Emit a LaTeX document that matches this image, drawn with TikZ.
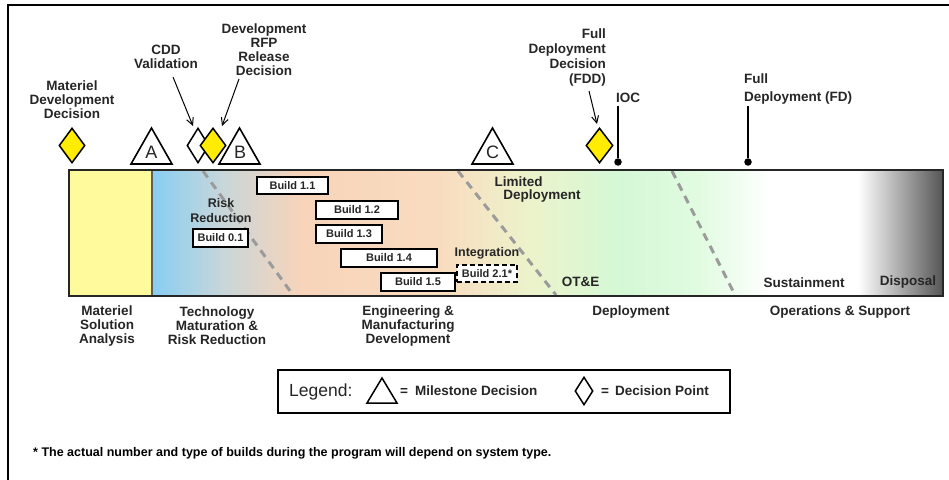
\documentclass[tikz,border=0pt]{standalone}
\usepackage{fontspec}
\setmainfont{Liberation Sans}
\usetikzlibrary{arrows.meta,shapes.geometric}

% colours
\definecolor{ink}{RGB}{38,38,38}
\definecolor{decyellow}{RGB}{255,236,0}
\definecolor{msayellow}{RGB}{255,250,155}
\definecolor{phaseline}{RGB}{155,155,155}
\definecolor{sepgray}{RGB}{95,95,95}
\definecolor{gA}{RGB}{135,206,242}
\definecolor{gB}{RGB}{200,214,218}
\definecolor{gC}{RGB}{247,212,186}
\definecolor{gD}{RGB}{249,220,192}
\definecolor{gE}{RGB}{236,243,203}
\definecolor{gF}{RGB}{212,248,214}
\definecolor{gG}{RGB}{225,251,225}
\definecolor{gH}{RGB}{85,85,85}

% fonts
\newcommand\lblfont{\bfseries\fontsize{13.5}{14}\selectfont}
\newcommand\midfont{\bfseries\fontsize{12.5}{15}\selectfont}
\newcommand\buildfont{\bfseries\fontsize{11}{12}\selectfont}
\newcommand\letterfont{\fontsize{18}{20}\selectfont}

\tikzset{
  lbl/.style={font=\lblfont, text=ink, align=center, inner sep=0pt},
  midlbl/.style={font=\midfont, text=ink, align=center, inner sep=0pt},
  buildbox/.style={draw=black, line width=1.8pt, fill=white, font=\buildfont,
    text=ink, inner sep=0pt, minimum height=17.5pt},
  decision/.style={diamond, draw=black, line width=1.5pt, fill=decyellow,
    inner sep=0pt, minimum width=26pt, minimum height=35pt},
  tri/.style={draw=black, line width=1.6pt, fill=white, line join=miter},
  msletter/.style={font=\letterfont, text=ink, inner sep=0pt},
  arr/.style={draw=black, line width=1pt, -{Straight Barb[length=7pt,width=7pt]}},
  phasesplit/.style={draw=phaseline, line width=3pt, dash pattern=on 8pt off 6pt},
  eventline/.style={draw=black, line width=1.5pt},
  eventdot/.style={circle, fill=black, inner sep=0pt, minimum size=7.5pt},
}

\begin{document}
\begin{tikzpicture}[x=1pt, y=-1pt]
\useasboundingbox (0,0) rectangle (949,479);
\fill[white] (0,0) rectangle (949,479);

% outer frame (cut at the right and bottom)
\draw[line width=2.4pt] (8,482) -- (8,5) -- (952,5);

% ---- life-cycle bar ----
\fill[msayellow] (69,170) rectangle (152.5,296);
\shade[left color=gA, right color=gB] (152,170) rectangle (222.5,296);
\shade[left color=gB, right color=gC] (222,170) rectangle (300.5,296);
\shade[left color=gC, right color=gD] (300,170) rectangle (440.5,296);
\shade[left color=gD, right color=gE] (440,170) rectangle (530.5,296);
\shade[left color=gE, right color=gF] (530,170) rectangle (620.5,296);
\shade[left color=gF, right color=gG] (620,170) rectangle (700.5,296);
\shade[left color=gG, right color=white] (700,170) rectangle (770.5,296);
\fill[white] (770,170) rectangle (858.5,296);
\shade[left color=white, right color=gH] (858,170) rectangle (943,296);

% phase overlaps
\draw[phasesplit] (203,171) -- (293,295);
\draw[phasesplit] (458,171) -- (556,295);
\draw[phasesplit] (672,171) -- (735,295);

\draw[sepgray, line width=2pt] (152,170) -- (152,296);
\draw[ink, line width=2pt] (69,170) rectangle (943,296);

% builds
\node[buildbox, minimum width=71pt] (b11) at (292.5,185.5) {Build 1.1};
\node[buildbox, minimum width=82pt] (b12) at (357,210) {Build 1.2};
\node[buildbox, minimum width=66pt] (b13) at (349,234) {Build 1.3};
\node[buildbox, minimum width=96pt] (b14) at (389,258) {Build 1.4};
\node[buildbox, minimum width=74pt] (b15) at (418,282) {Build 1.5};
\node[buildbox, minimum width=60pt, dashed, dash pattern=on 5pt off 3pt] (b21) at (487,273.5) {Build 2.1*};
\node[buildbox, minimum width=55pt] (b01) at (220.5,238) {Build 0.1};

% labels inside the bar
\node[midlbl] (riskred) at (221,210.5) {Risk\\Reduction};
\node[lbl] (limited) at (518.5,182) {Limited};
\node[lbl] (limdep) at (542,196) {Deployment};
\node[midlbl] (integ) at (487,253) {Integration};
\node[lbl] (ote) at (580.5,282) {OT\&E};
\node[lbl] (sustain) at (804,283) {Sustainment};
\node[lbl] (dispose) at (908,282) {Disposal};

% phase names under the bar
\node[lbl] (msa) at (107,326) {Materiel\\Solution\\Analysis};
\node[lbl] (tmrr) at (217,326) {Technology\\Maturation \&\\Risk Reduction};
\node[lbl] (emd) at (408,326) {Engineering \&\\Manufacturing\\Development};
\node[lbl] (pd) at (631,312) {Deployment};
\node[lbl] (os) at (840,312) {Operations \& Support};

% ---- milestones and decision points ----
\node[decision] (mdd) at (72,145.5) {};
\node[lbl] (mddtxt) at (72,99.5) {Materiel\\Development\\Decision};

\draw[tri] (131,164) -- (151.5,128) -- (172,164) -- cycle;
\node[msletter] (msA) at (151.5,152) {A};

\node[decision, fill=white, minimum width=22pt] (cdd) at (198,145.5) {};
\node[decision] (drfp) at (213,145.5) {};

\draw[tri] (219,164) -- (239.5,128) -- (260,164) -- cycle;
\node[msletter] (msB) at (240,152) {B};

\draw[tri] (472,164) -- (492.5,128) -- (513,164) -- cycle;
\node[msletter] (msC) at (492.5,152) {C};

\node[decision, minimum width=27pt] (fdd) at (599.5,145.5) {};

\node[lbl] (cddtxt) at (166,56.5) {CDD\\Validation};
\node[lbl] (drfptxt) at (264,50) {Development\\RFP\\Release\\Decision};
\node[lbl, align=right, anchor=east, font=\bfseries\fontsize{13.5}{15}\selectfont]
  (fddtxt) at (606,57.5) {Full\\Deployment\\Decision\\(FDD)};

\coordinate (cddtail) at (173,77);
\coordinate (cddhead) at (193,126);
\coordinate (drfptail) at (239,79);
\coordinate (drfphead) at (222,126);
\coordinate (fddtail) at (589,91);
\coordinate (fddhead) at (597,124);
\draw[arr] (cddtail) -- (cddhead);
\draw[arr] (drfptail) -- (drfphead);
\draw[arr] (fddtail) -- (fddhead);

% IOC and FD events
\node[eventdot] (iocdot) at (618,162) {};
\coordinate (ioctop) at (618,106);
\draw[eventline] (ioctop) -- (iocdot);
\node[lbl, anchor=west] (ioctxt) at (616,98) {IOC};

\node[eventdot] (fddot) at (748,162) {};
\coordinate (fdtop) at (748,106);
\draw[eventline] (fdtop) -- (fddot);
\node[lbl, anchor=west, align=left, font=\bfseries\fontsize{13.5}{18}\selectfont]
  (fdtxt) at (744,89) {Full\\Deployment (FD)};

% ---- legend ----
\node[draw=black, line width=2pt, minimum width=452pt, minimum height=43pt,
  inner sep=0pt] (legend) at (504,391.5) {};
\node[inner sep=0pt, anchor=west, font=\fontsize{17.5}{19}\selectfont, text=ink]
  (legtitle) at (289,392) {Legend:};
\draw[line width=1.5pt, fill=white] (367,403) -- (382,378) -- (397,403) -- cycle;
\node[lbl, anchor=west] (legms) at (400,391) {=\hspace{7pt}Milestone Decision};
\node[diamond, draw=black, line width=1.5pt, fill=white, inner sep=0pt,
  minimum width=18pt, minimum height=28pt] (legdp) at (584,391) {};
\node[lbl, anchor=west] (legdptxt) at (601,391) {=\hspace{6pt}Decision Point};

% footnote
\node[inner sep=0pt, anchor=west, font=\bfseries\fontsize{12.5}{14}\selectfont]
  (foot) at (33,453) {* The actual number and type of builds during the program will depend on system type.};

\end{tikzpicture}
\end{document}
